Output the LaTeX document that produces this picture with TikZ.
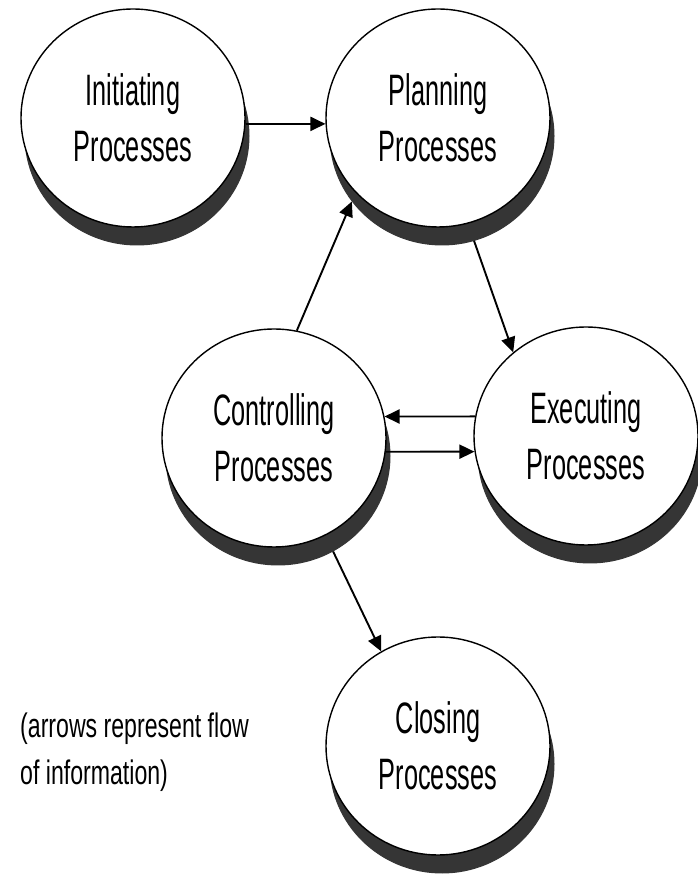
\documentclass[tikz,border=0pt]{standalone}
\usepackage{fontspec}
\setmainfont{Liberation Sans}[FakeStretch=0.575]
\newfontfamily\notefont{Liberation Sans}[FakeStretch=0.68]
\usetikzlibrary{shapes.geometric,arrows.meta}

\definecolor{rimgray}{HTML}{353535}

\begin{document}
\begin{tikzpicture}[x=1pt,y=1pt,
  disc/.style={ellipse, draw=black, line width=1.4pt, fill=white,
    minimum width=224pt, minimum height=218pt, inner sep=0pt,
    align=center, font=\fontsize{44}{56}\selectfont},
  rim/.style={ellipse, draw=rimgray, fill=rimgray, line width=1pt,
    minimum width=224pt, minimum height=218pt, inner sep=0pt},
  flow/.style={line width=1.9pt, -{Triangle[length=15pt,width=14pt]}},
  note/.style={align=left, inner sep=0pt,
    font=\notefont\fontsize{34}{47}\selectfont},
]
\useasboundingbox (0,0) rectangle (698,875);

% dark rims under each disc
\node[rim] (initS)  at (137,739) {};
\node[rim] (planS)  at (442,739) {};
\node[rim] (ctrlS)  at (278,419) {};
\node[rim] (execS)  at (590,421) {};
\node[rim] (closeS) at (442,111) {};

% process discs
\node[disc] (init)  at (133,757) {Initiating\\Processes};
\node[disc] (plan)  at (438,757) {Planning\\Processes};
\node[disc] (ctrl)  at (274,437) {Controlling\\Processes};
\node[disc] (exec)  at (586,439) {Executing\\Processes};
\node[disc] (close) at (438,129) {Closing\\Processes};

% information flow
\draw[flow] (init.-3)   -- (plan.183);
\draw[flow] (ctrl.78)   -- (planS.216);
\draw[flow] (planS.287) -- (exec.131);
\draw[flow] (exec.170)  -- (ctrl.11);
\draw[flow] (ctrl.-7)   -- (exec.188);
\draw[flow] (ctrlS.300) -- (close.121);

% the last line's baseline carries the anchor
\node[note, anchor=base west] (legend) at (20,90)
  {(arrows represent flow\\of information)};
\end{tikzpicture}
\end{document}
